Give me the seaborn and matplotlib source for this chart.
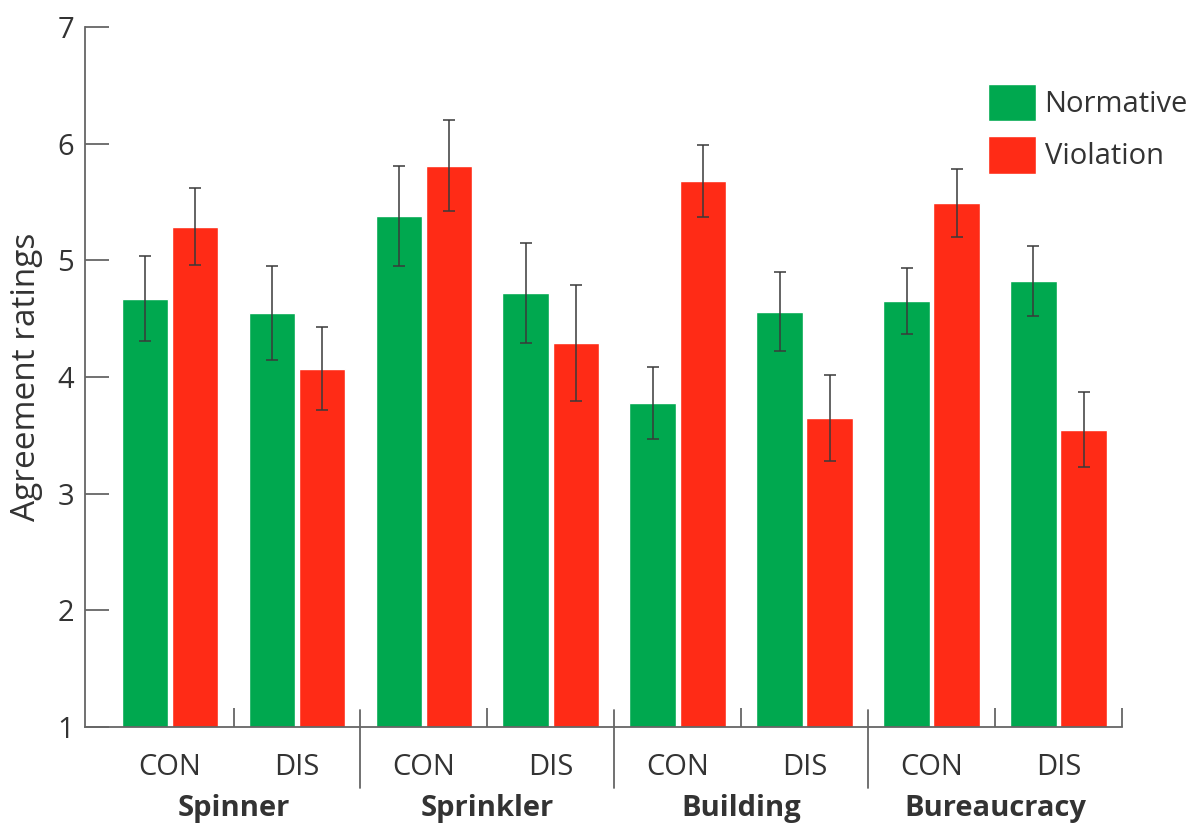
import pandas as pd
import matplotlib.pyplot as plt
import seaborn as sns

# data
stories = ['Spinner', 'Sprinkler', 'Building', 'Bureaucracy']
conds = ['CON', 'DIS']
norm_mean = [4.67, 4.55, 5.38, 4.72, 3.78, 4.56, 4.65, 4.82]
norm_err = [0.365, 0.40, 0.425, 0.43, 0.31, 0.34, 0.285, 0.30]
viol_mean = [5.29, 4.07, 5.81, 4.29, 5.68, 3.65, 5.49, 3.55]
viol_err = [0.33, 0.355, 0.39, 0.495, 0.31, 0.37, 0.29, 0.32]

green = '#00A84F'
red = '#FF2B16'

slots = [s + ' ' + c for s in stories for c in conds]
df = pd.DataFrame({
    'slot': slots * 2,
    'rating': norm_mean + viol_mean,
    'type': ['Normative'] * 8 + ['Violation'] * 8,
})

sns.set_style('ticks')
plt.rcParams['font.family'] = ['Open Sans', 'DejaVu Sans']

fig = plt.figure(figsize=(11.93, 8.25), dpi=100)
ax = fig.add_axes([85 / 1193, 1 - 727 / 825, (1122 - 85) / 1193, 700 / 825])

sns.barplot(data=df, x='slot', y='rating', hue='type', order=slots,
            hue_order=['Normative', 'Violation'], palette=[green, red],
            width=0.79, gap=0.07, errorbar=None, saturation=1, ax=ax)

# error bars at the bar centres
for cont, means, errs in zip(ax.containers, [norm_mean, viol_mean], [norm_err, viol_err]):
    xs = [b.get_x() + b.get_width() / 2 for b in cont]
    ax.errorbar(xs, means, yerr=errs, fmt='none', ecolor='#3a3a3a',
                elinewidth=1.3, capsize=4.5, capthick=1.3, alpha=0.85)

ax.set_ylim(1, 7)
ax.set_xlim(-0.67, 7.5)
ax.set_yticks(range(1, 8))
ax.set_xticks(range(8))
ax.set_xticklabels(conds * 4)
ax.set_xlabel('')
ax.set_ylabel('Agreement ratings', fontsize=24, color='#333', labelpad=10)

sns.despine(ax=ax)
for sp in ['left', 'bottom']:
    ax.spines[sp].set_color('#666')
    ax.spines[sp].set_linewidth(1.3)

ax.tick_params(axis='y', direction='in', length=17, width=1.3, color='#666',
               labelsize=21, labelcolor='#333', pad=8)
ax.tick_params(axis='x', length=0, labelsize=21, labelcolor='#333', pad=19)
ax.set_xticks([0.5, 2.5, 4.5, 6.5, 7.5], minor=True)
ax.tick_params(axis='x', which='minor', direction='in', length=14, width=1.3, color='#666')

# group separators and story names
trans = ax.get_xaxis_transform()
for i, s in enumerate(stories):
    ax.text(2 * i + 0.5, -0.116, s, transform=trans, ha='center', va='center',
            fontsize=21, fontweight='bold', color='#333')
    if i > 0:
        ax.plot([2 * i - 0.5] * 2, [0.024, -0.087], transform=trans, color='#666',
                lw=1.3, clip_on=False)

leg = ax.legend(loc='upper left', bbox_to_anchor=(988 / 1193, 1 - 84 / 825),
                bbox_transform=fig.transFigure, frameon=False, fontsize=21,
                handlelength=1.64, handleheight=1.6, handletextpad=0.3,
                labelspacing=0.5, borderpad=0, borderaxespad=0)
for t in leg.get_texts():
    t.set_color('#333')

fig.savefig('out.png', dpi=100)
